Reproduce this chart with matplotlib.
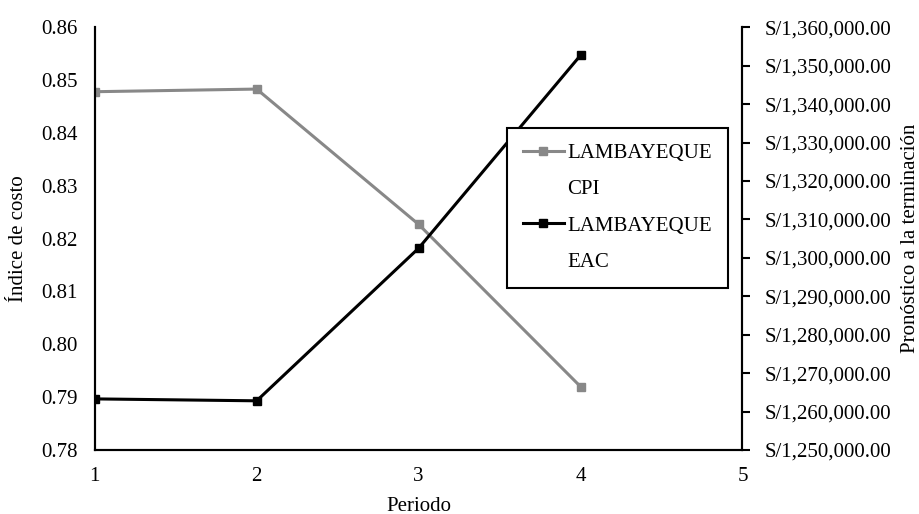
import numpy as np
import matplotlib
matplotlib.use("Agg")
import matplotlib.pyplot as plt
from matplotlib.lines import Line2D
from matplotlib.ticker import FuncFormatter

plt.rcParams["font.family"] = ["Liberation Serif", "DejaVu Serif"]
plt.rcParams["font.size"] = 15

# Periods and indicator values
periodo = [1, 2, 3, 4]
cpi = [0.8478, 0.8483, 0.8227, 0.7920]
eac = [1263300, 1262800, 1302500, 1352700]

fig = plt.figure(figsize=(9.2, 5.14), dpi=100)
ax = fig.add_axes([0.103, 0.1245, 0.704, 0.8225])
ax2 = ax.twinx()

l1, = ax.plot(periodo, cpi, color="#888888", lw=2.2, marker="s", ms=6)
l2, = ax2.plot(periodo, eac, color="black", lw=2.2, marker="s", ms=6)

ax.set_xlim(1, 5)
ax.set_ylim(0.78, 0.86)
ax.set_yticks(np.arange(0.78, 0.8601, 0.01))
ax.yaxis.set_major_formatter(FuncFormatter(lambda v, p: f"{v:.2f}"))
ax.set_xticks([1, 2, 3, 4, 5])

ax2.set_ylim(1250000, 1360000)
ax2.set_yticks(np.arange(1250000, 1360001, 10000))
ax2.yaxis.set_major_formatter(FuncFormatter(lambda v, p: f"S/{v:,.2f}"))

for a in (ax, ax2):
    a.spines["top"].set_visible(False)
    for s in a.spines.values():
        s.set_linewidth(1.5)
ax.tick_params(axis="both", length=0, pad=12)
ax2.tick_params(axis="y", direction="out", length=6, width=1.5, pad=10)

ax.set_xlabel("Periodo", labelpad=8)
ax.set_ylabel("Índice de costo", labelpad=10)
ax2.set_ylabel("Pronóstico a la terminación", labelpad=7)

# two-line legend entries: the marker sits on the first line
blank = Line2D([], [], color="none")
leg = fig.legend(handles=[l1, blank, l2, blank],
                 labels=["LAMBAYEQUE", "CPI", "LAMBAYEQUE", "EAC"],
                 loc="upper left", bbox_to_anchor=(0.551, 0.751),
                 borderaxespad=0, fancybox=False, edgecolor="black",
                 framealpha=1, handlelength=2.0, labelspacing=0.8,
                 borderpad=0.75, handletextpad=0.15)
leg.get_frame().set_linewidth(1.5)

fig.savefig("out.png", dpi=100)
